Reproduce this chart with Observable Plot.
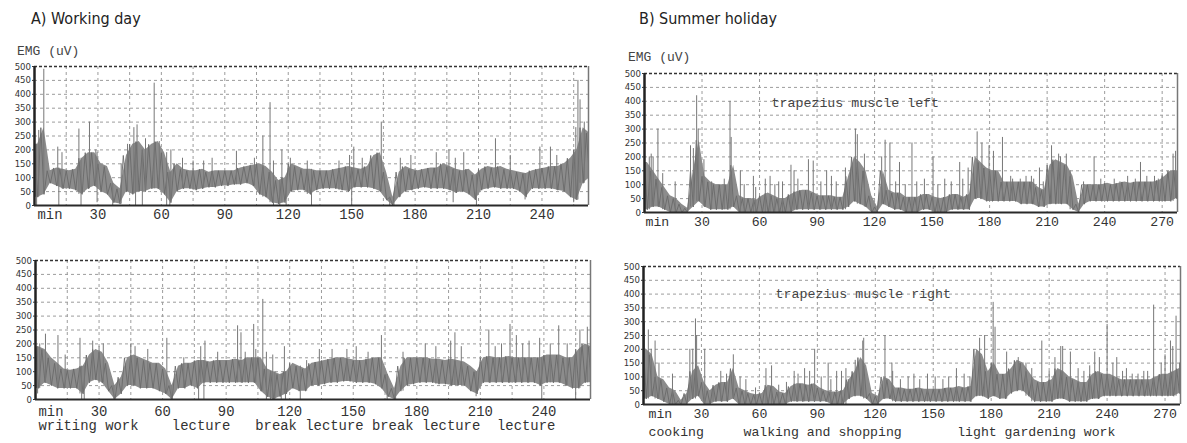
<!DOCTYPE html>
<html><head><meta charset="utf-8">
<script src="https://cdn.jsdelivr.net/npm/d3@7"></script>
<script src="https://cdn.jsdelivr.net/npm/@observablehq/plot@0.6"></script>
<style>
html,body{margin:0;padding:0;background:#fff;}
#root{position:relative;width:1187px;height:443px;overflow:hidden;background:#fff;}
.panel{position:absolute;}
.title{position:absolute;font-family:"Liberation Sans Narrow","DejaVu Sans Condensed","Arial Narrow",sans-serif;font-size:16px;line-height:20px;color:#222;white-space:nowrap;}
.unit{position:absolute;font-family:"Liberation Mono","DejaVu Sans Mono",monospace;font-size:13px;line-height:13px;color:#444;white-space:pre;}
svg text{white-space:pre;}
</style></head><body><div id="root"></div>
<script>
// ---------- shared ----------
const binMin = 3; // each lo/hi value covers 3 minutes
const yTicks = [0,50,100,150,200,250,300,350,400,450,500];
const ticksA = [30,60,90,120,150,180,210,240];
const gridA = [15,30,45,60,75,90,105,120,135,150,165,180,195,210,225,240,255];
const domainA = [0,262];
const ticksB = [30,60,90,120,150,180,210,240,270];
const gridB = [30,60,90,120,150,180,210,240,270];
const domainB = [0,278];
const titleA = "A) Working day";
const titleB = "B) Summer holiday";
const unitLabel = "EMG (uV)";
const activityA = "writing work    lecture   break lecture break lecture  lecture";
const activityB = "cooking     walking and shopping       light gardening work";
const muscleLeft = "trapezius muscle left";
const muscleRight = "trapezius muscle right";

// ---------- A) working day, upper trace ----------
const aTopLo = [30,40,80,70,60,60,55,40,60,70, 50,40,10,5,50,40,50,50,60,60, 40,10,50,60,60,55,60,65,65,70,
  70,75,75,80,70,40,30,10,5,10, 50,55,55,40,55,60,60,60,55,50, 65,65,65,60,50,20,0,30,50,55,
  60,65,60,60,60,55,45,50,40,20, 55,60,65,60,60,60,50,30,60,60, 60,60,55,50,30,20,80,100];
const aTopHi = [220,280,125,135,130,125,130,170,190,190, 150,140,80,60,180,220,230,200,220,230, 190,120,150,130,125,125,130,120,125,125,
  125,125,135,140,145,150,140,120,90,100, 150,140,130,130,125,125,125,130,135,140, 135,130,140,180,190,120,30,120,140,130,
  125,130,135,135,150,140,130,125,130,110, 130,140,135,140,130,125,120,115,125,130, 135,140,140,150,170,200,280,260];
const aTopSpikeMin = [2,4.4,11,13,21,26,29,41,44,47,48.5,52.5,56.6,59,64.5,70,75,80,84,95.5,104,108,111.4,113,117,121,129,144,149,151,155,164,173,178,190,196,199,203,218,225,239,244,247,256,257,258,260];
const aTopSpikeVal = [270,490,210,190,275,300,200,150,220,280,290,240,440,230,200,170,160,160,170,195,170,250,370,160,200,170,160,160,180,210,170,300,170,180,190,200,170,190,240,180,210,210,180,280,450,380,300];
const aTopDipMin = [1,11.5,22,29.6,37,47.8,51,62.5,64,113,116,119,131,150,168,170,198,209,232,255];
const aTopDipVal = [0,0,0,10,0,0,0,0,0,0,0,0,0,0,0,0,10,0,20,10];

// ---------- A) working day, lower trace ----------
const aBotLo = [40,60,50,40,40,40,40,20,60,70, 60,30,0,20,50,50,40,40,40,30, 20,0,40,40,50,40,60,60,60,60,
  60,60,60,60,60,30,10,0,10,20, 40,30,30,50,50,55,60,60,65,65, 60,60,60,55,40,10,0,30,50,55,
  60,60,60,55,55,50,50,50,30,20, 60,60,60,60,60,60,60,60,60,50, 60,60,60,50,40,40,60,60];
const aBotHi = [190,180,150,130,110,105,110,120,160,180, 170,130,50,80,150,160,150,140,130,130, 110,50,120,130,130,140,140,135,140,140,
  140,145,140,150,150,150,110,100,90,100, 130,120,110,130,135,140,145,150,150,145, 140,140,145,150,150,90,40,120,150,150,
  150,150,145,145,140,145,140,135,120,100, 150,155,150,150,155,150,150,150,150,150, 160,160,160,150,150,180,200,190];
const aBotSpikeMin = [2,4.7,10.6,14,21,27,30,32,45,47,53,62,70,78,80,86,95.4,97,99,103,104,107.3,109,112,117.5,128,134,140,147,151.4,157,163.3,173.5,184,189,196,198,201,214,217,220,224,227,230,233,238,243,247,251,257,260.5];
const aBotSpikeVal = [200,235,230,160,220,210,190,200,200,190,180,220,150,190,210,170,265,240,170,270,180,360,170,160,190,140,180,180,180,190,170,230,170,200,190,210,240,190,250,190,200,270,230,200,210,220,200,265,200,250,260];
const aBotDipMin = [1,21.8,23,37,64,77,79.5,109,111,113,116,118,125,166,170,208,239,255];
const aBotDipVal = [20,0,0,0,0,0,0,0,0,0,0,0,0,0,0,10,0,0];

// ---------- B) summer holiday, left trapezius ----------
const bTopLo = [10,20,20,10,0,0,0,0,20,40, 20,10,10,10,10,20,0,0,0,0, 0,0,0,0,0,0,10,10,10,10,
  10,10,10,10,10,20,40,30,20,0, 0,30,20,10,10,0,0,0,10,10, 0,0,0,10,10,10,10,50,50,40,
  40,40,40,40,40,30,30,30,20,20, 30,30,30,30,10,0,30,40,40,40, 40,40,40,40,40,40,40,40,40,40, 40,40,50];
const bTopHi = [180,150,120,90,60,50,30,15,150,260, 130,110,100,100,100,170,60,50,50,45, 60,70,60,50,50,65,75,80,80,70,
  60,60,60,55,55,130,200,180,150,60, 20,150,80,70,70,55,55,55,65,65, 55,50,55,65,65,55,65,200,180,160,
  150,150,110,110,110,110,110,110,90,80, 170,190,180,170,130,30,100,100,100,100, 105,100,105,110,105,110,110,110,110,115, 130,150,150];
const bTopSpikeMin = [2.5,3.5,4.5,7,9.5,16,24,25.5,27.2,28,31,35,41.6,44.6,45.2,50,52,56.8,58,63,65.5,68,70,72,76.4,78,80,85.5,88,92,95,97.5,100,104.8,110,111,114.7,123.7,125.5,128,131,133,136,139.5,142,146,150.5,153,156.6,160,164.4,166,168.8,173.5,176,179.7,182,186.7,191,192,196,199,201.8,203,206,208,212.3,216,217,220,222,229,234.5,238,245,248,252,256,258.7,262,266,268,270,275.7,277];
const bTopSpikeVal = [200,210,200,300,140,110,240,230,420,300,190,110,120,400,270,150,100,130,90,120,130,100,110,110,170,150,120,190,185,110,150,130,110,160,300,280,210,200,260,250,110,180,100,250,110,120,200,100,120,110,180,120,160,290,250,240,220,270,130,120,120,130,130,120,160,110,240,210,200,210,150,110,200,120,120,110,130,120,180,130,130,120,140,210,220];

// ---------- B) summer holiday, right trapezius ----------
const bBotLo = [20,30,20,10,0,0,0,0,20,30, 0,0,10,10,10,20,0,0,0,0, 0,0,0,0,0,10,10,10,10,10,
  10,10,0,0,0,20,30,30,20,0, 0,20,20,10,10,10,10,10,10,10, 10,10,10,10,10,10,10,30,30,20,
  30,20,20,40,50,50,30,10,10,10, 10,20,20,10,10,10,10,20,20,30, 30,30,30,30,30,30,30,30,30,30, 30,30,40];
const bBotHi = [200,180,100,90,60,50,15,40,120,140, 80,50,70,80,80,130,60,50,40,35, 40,70,65,45,40,65,75,75,70,75,
  60,50,45,45,50,90,120,170,140,40, 30,100,90,60,60,55,55,60,55,55, 55,55,60,60,65,60,65,200,180,120,
  150,110,110,130,160,150,120,90,80,80, 90,130,120,100,90,80,80,110,120,110, 110,100,90,90,90,90,90,90,100,110, 110,120,130];
const bBotSpikeMin = [0.5,2.5,4,6,8,15,24,25.5,26.9,27.5,31.7,36,40,43,46.5,50,53,58,63.4,66.3,70,74,78,80,83.4,86,88.6,92,95.6,97,100,102.5,104.8,106,109.6,113.5,114,125,128.6,129,133,137,140,143,147,151,155,158,162,166,169,174,176.6,181,182,188,194,198,201,206.2,210,213,216,217,221,225,228,231,233.6,236,240,243,245,248,250,253,256,259,261,264.1,268,270,272.8,274,275.7,277.5];
const bBotSpikeVal = [300,270,200,230,150,110,200,200,310,250,200,60,120,110,180,100,90,60,130,140,70,80,120,110,130,120,200,100,150,90,120,120,130,90,160,230,240,250,150,120,90,100,110,90,110,100,90,100,130,110,100,240,250,370,280,190,170,150,130,230,120,170,210,210,190,130,120,140,190,170,290,150,170,120,130,110,110,120,120,360,150,180,230,210,320,150];

// ---------- drawing ----------
const NARROW = '"Liberation Sans Narrow","DejaVu Sans Condensed","Arial Narrow",sans-serif';
const MONO = '"Liberation Mono","DejaVu Sans Mono","Courier New",monospace';
const root = document.getElementById("root");

function addDiv(cls, text, left, top) {
  const d = document.createElement("div");
  d.className = cls; d.textContent = text;
  d.style.left = left + "px"; d.style.top = top + "px";
  root.appendChild(d);
}

function makePanel(c) {
  const n = c.lo.length;
  const half = binMin / 2;
  const bins = c.lo.map((lo, i) => ({m: i * binMin, lo, hi: c.hi[i]}));
  // band outline through bin centres, held to the frame edges
  const band = [{m: c.domain[0], lo: c.lo[0], hi: c.hi[0]}]
    .concat(bins.map(b => ({m: b.m + half, lo: b.lo, hi: b.hi})))
    .concat([{m: c.domain[1], lo: c.lo[n - 1], hi: c.hi[n - 1]}]);
  // jagged trace: the high reading and the low reading of each bin, in turn
  const zig = [];
  bins.forEach(b => { zig.push({m: b.m, v: b.hi}); zig.push({m: b.m + half, v: b.lo}); });
  zig.push({m: c.domain[1], v: c.hi[n - 1]});
  const binAt = m => bins[Math.min(Math.floor(m / binMin), n - 1)];
  const spikes = c.spikeMin.map((m, i) => ({m, lo: binAt(m).lo, v: c.spikeVal[i]}));
  const dips = (c.dipMin || []).map((m, i) => ({m, v: c.dipVal[i], hi: binAt(m).hi}));
  const yGrid = yTicks.filter(v => v > yTicks[0] && v < yTicks[yTicks.length - 1]);
  const marks = [
    Plot.ruleY(yGrid, {stroke: "#9c9c9c", strokeWidth: 1, strokeDasharray: "3,3"}),
    Plot.ruleX(c.grid, {stroke: "#9c9c9c", strokeWidth: 1, strokeDasharray: "3,3"}),
    Plot.areaY(band, {x: "m", y1: "lo", y2: "hi", curve: "linear", fill: "#8c8c8c", clip: true}),
    Plot.line(zig, {x: "m", y: "v", stroke: "#6a6a6a", strokeWidth: 0.9, clip: true}),
    Plot.ruleX(spikes, {x: "m", y1: "lo", y2: "v", stroke: "#777", strokeWidth: 1, clip: true}),
    Plot.ruleX(dips, {x: "m", y1: "v", y2: "hi", stroke: "#777", strokeWidth: 1, clip: true}),
    Plot.ruleY([yTicks[yTicks.length - 1]], {stroke: "#333", strokeWidth: 1.5, strokeDasharray: "3,2"}),
    Plot.ruleY([yTicks[0]], {stroke: "#2a2a2a", strokeWidth: 2}),
    Plot.ruleX([c.domain[1]], {stroke: "#777", strokeWidth: 1.5}),
    Plot.ruleX([c.domain[0]], {stroke: "#222", strokeWidth: 2.5}),
    Plot.axisY(yTicks, {tickSize: 2, tickPadding: 1.5, fontSize: 9.5, fontFamily: NARROW, color: "#333", label: null}),
    Plot.text(c.ticks, {x: d => d, text: d => String(d), frameAnchor: "bottom", dy: c.tickDy, fontFamily: MONO, fontSize: c.mono, fill: "#333"}),
    Plot.text(["min"], {x: c.domain[0], frameAnchor: "bottom", textAnchor: "start", dx: c.minDx, dy: c.tickDy, fontFamily: MONO, fontSize: c.mono, fill: "#333"})
  ];
  if (c.activity) marks.push(Plot.text([c.activity], {x: c.domain[0], frameAnchor: "bottom", textAnchor: "start", dx: c.minDx, dy: c.actDy, fontFamily: MONO, fontSize: c.mono, fill: "#333"}));
  if (c.muscle) marks.push(Plot.text([c.muscle], {frameAnchor: "top-left", textAnchor: "start", dx: c.muscleDx, dy: c.muscleDy, fontFamily: MONO, fontSize: 13.3, fill: "#444"}));
  const svg = Plot.plot({
    width: c.width, height: c.height,
    marginLeft: c.ml, marginRight: c.mr, marginTop: c.mt, marginBottom: c.mb,
    x: {domain: c.domain, axis: null},
    y: {domain: [yTicks[0], yTicks[yTicks.length - 1]], label: null},
    style: {background: "transparent", overflow: "visible"},
    marks
  });
  const wrap = document.createElement("div");
  wrap.className = "panel";
  wrap.style.left = c.left + "px"; wrap.style.top = c.top + "px";
  wrap.appendChild(svg);
  root.appendChild(wrap);
}

addDiv("title", titleA, 31, 9);
addDiv("title", titleB, 639, 9);
addDiv("unit", unitLabel, 17, 45);
addDiv("unit", unitLabel, 628, 51);

makePanel({lo: aTopLo, hi: aTopHi, spikeMin: aTopSpikeMin, spikeVal: aTopSpikeVal, dipMin: aTopDipMin, dipVal: aTopDipVal,
  domain: domainA, grid: gridA, ticks: ticksA, mono: 13.9, tickDy: 13, minDx: 3,
  left: 0, top: 56, width: 596, height: 171, ml: 34, mr: 8, mt: 10, mb: 22});
makePanel({lo: aBotLo, hi: aBotHi, spikeMin: aBotSpikeMin, spikeVal: aBotSpikeVal, dipMin: aBotDipMin, dipVal: aBotDipVal,
  domain: domainA, grid: gridA, ticks: ticksA, mono: 13.9, tickDy: 16, minDx: 3, activity: activityA, actDy: 30,
  left: 0, top: 250, width: 596, height: 187, ml: 35, mr: 6, mt: 10, mb: 38});
makePanel({lo: bTopLo, hi: bTopHi, spikeMin: bTopSpikeMin, spikeVal: bTopSpikeVal,
  domain: domainB, grid: gridB, ticks: ticksB, mono: 13.2, tickDy: 13, minDx: 1, muscle: muscleLeft, muscleDx: 127, muscleDy: 24,
  left: 600, top: 63, width: 587, height: 171, ml: 44, mr: 10, mt: 10, mb: 22});
makePanel({lo: bBotLo, hi: bBotHi, spikeMin: bBotSpikeMin, spikeVal: bBotSpikeVal,
  domain: domainB, grid: gridB, ticks: ticksB, mono: 13.2, tickDy: 13, minDx: 5, activity: activityB, actDy: 31, muscle: muscleRight, muscleDx: 132, muscleDy: 22,
  left: 600, top: 256, width: 587, height: 186, ml: 43, mr: 7, mt: 10, mb: 38});
</script></body></html>
